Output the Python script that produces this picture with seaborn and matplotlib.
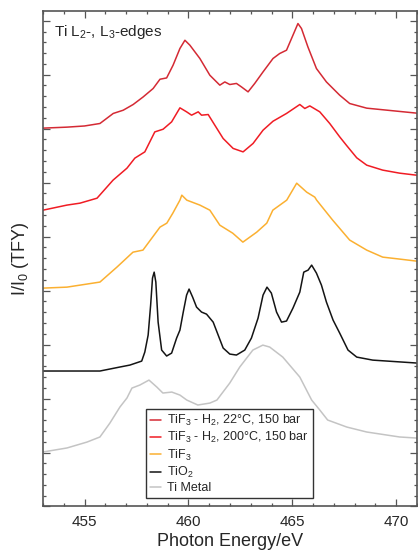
import matplotlib
matplotlib.use("Agg")
import matplotlib.pyplot as plt
import seaborn as sns
import pandas as pd
from matplotlib.ticker import MultipleLocator

# ---- data ----
e_22c = [453.00, 454.14, 455.00, 455.74, 456.38, 456.86, 457.34, 457.82, 458.30, 458.63, 458.95, 459.26,
         459.59, 459.83, 460.07, 460.55, 461.03, 461.51, 461.75, 461.99, 462.31, 462.55, 462.87, 463.19,
         463.59, 464.07, 464.39, 464.72, 465.03, 465.27, 465.44, 465.75, 466.16, 466.64, 467.28, 467.76,
         468.58, 470.98]
i_22c = [35.05, 35.14, 35.25, 35.48, 36.41, 36.71, 37.24, 37.94, 38.72, 39.58, 39.70, 40.88,
         42.43, 43.19, 42.73, 41.50, 39.95, 39.03, 39.33, 39.09, 39.19, 38.87, 38.41, 39.19,
         40.26, 41.50, 41.96, 42.27, 43.66, 44.74, 44.28, 42.57, 40.57, 39.33, 38.10, 37.33,
         36.90, 36.44]

e_200c = [453.00, 454.15, 454.78, 455.60, 456.37, 457.04, 457.42, 457.90, 458.38, 458.78, 459.19, 459.59,
          459.91, 460.15, 460.47, 460.63, 460.95, 461.27, 461.67, 462.15, 462.63, 463.11, 463.59, 464.07,
          464.72, 465.36, 465.60, 465.84, 466.32, 466.80, 467.28, 467.60, 468.10, 468.58, 469.35, 470.16,
          470.98]
i_200c = [27.45, 27.92, 28.10, 28.56, 30.23, 31.34, 32.27, 32.85, 34.70, 34.95, 35.63, 36.93,
          36.56, 36.25, 36.56, 36.25, 36.31, 35.32, 34.09, 33.17, 32.85, 33.63, 34.86, 35.69,
          36.41, 37.24, 36.87, 37.11, 36.56, 35.48, 34.24, 33.47, 32.30, 31.62, 31.16, 30.88,
          30.69]

e_tif3 = [453.00, 454.15, 455.74, 456.56, 457.33, 457.81, 458.63, 458.96, 459.25, 459.59, 459.68, 459.92,
          460.55, 461.03, 461.51, 462.13, 462.62, 463.29, 463.77, 464.06, 464.73, 465.21, 465.69, 466.08,
          466.17, 466.94, 467.76, 468.58, 469.35, 470.16, 470.98]
i_tif3 = [20.23, 20.32, 20.79, 22.18, 23.56, 23.75, 25.88, 26.25, 27.18, 28.38, 28.84, 28.38,
          27.92, 27.45, 26.06, 25.32, 24.49, 25.42, 26.25, 27.45, 28.38, 29.95, 29.12, 28.66,
          28.38, 26.53, 24.68, 23.75, 23.10, 22.92, 22.73]

e_tio2 = [453.00, 455.74, 456.70, 457.18, 457.75, 457.90, 458.06, 458.18, 458.27, 458.35, 458.43, 458.54,
          458.71, 458.95, 459.19, 459.43, 459.59, 459.75, 459.91, 460.03, 460.20, 460.39, 460.63, 460.87,
          461.19, 461.43, 461.67, 461.99, 462.31, 462.71, 463.03, 463.35, 463.59, 463.78, 463.99, 464.24,
          464.48, 464.72, 465.03, 465.36, 465.55, 465.76, 465.93, 466.16, 466.40, 466.64, 466.96, 467.28,
          467.68, 468.10, 468.87, 470.98]
i_tio2 = [12.55, 12.55, 12.92, 13.10, 13.47, 14.31, 15.88, 18.66, 21.16, 21.71, 20.79, 17.08,
          14.49, 13.94, 14.21, 15.60, 16.34, 18.01, 19.58, 20.14, 19.40, 18.47, 18.01, 17.82,
          17.08, 15.88, 14.68, 14.12, 14.03, 14.49, 15.60, 17.45, 19.58, 20.32, 19.77, 18.01,
          17.08, 17.18, 18.38, 19.86, 21.71, 21.90, 22.36, 21.62, 20.51, 18.94, 17.27, 16.06,
          14.49, 13.84, 13.56, 13.29]

e_ti = [453.00, 454.15, 455.12, 455.74, 456.22, 456.70, 457.04, 457.28, 457.66, 458.10, 458.48, 458.77,
        459.20, 459.59, 459.92, 460.45, 461.03, 461.37, 461.99, 462.47, 463.10, 463.58, 463.91, 464.54,
        465.36, 465.93, 466.32, 466.70, 467.62, 468.58, 470.16, 470.98]
i_ti = [5.05, 5.42, 5.97, 6.44, 7.73, 9.21, 10.05, 10.97, 11.25, 11.71, 11.06, 10.51,
        10.60, 10.32, 9.86, 9.40, 9.58, 9.86, 11.44, 12.92, 14.49, 14.95, 14.77, 13.84,
        11.99, 9.86, 8.94, 8.01, 7.36, 6.90, 6.44, 6.34]

labels = ["TiF$_\\mathregular{3}$ - H$_\\mathregular{2}$, 22°C, 150 bar",
          "TiF$_\\mathregular{3}$ - H$_\\mathregular{2}$, 200°C, 150 bar",
          "TiF$_\\mathregular{3}$",
          "TiO$_\\mathregular{2}$",
          "Ti Metal"]
colors = ["#d42a34", "#f01c24", "#fbb031", "#141414", "#c4c4c4"]
series = [(e_22c, i_22c), (e_200c, i_200c), (e_tif3, i_tif3), (e_tio2, i_tio2), (e_ti, i_ti)]

# ---- plot ----
sns.set_style("white")
plt.rcParams["font.family"] = ["Liberation Sans", "DejaVu Sans"]
plt.rcParams["mathtext.fontset"] = "custom"
plt.rcParams["mathtext.rm"] = "Liberation Sans"
plt.rcParams["mathtext.it"] = "Liberation Sans:italic"
plt.rcParams["mathtext.bf"] = "Liberation Sans:bold"

fig = plt.figure(figsize=(4.18, 5.53), dpi=100)
ax = fig.add_axes([0.1029, 0.0841, 0.8947, 0.896])

for (xs, ys), lab, col in zip(series, labels, colors):
    df = pd.DataFrame({"E": xs, "I": ys})
    sns.lineplot(data=df, x="E", y="I", ax=ax, color=col, lw=1.1, label=lab, sort=False)

ax.set_xlim(453, 471)
ax.set_ylim(0, 45.9)
ax.xaxis.set_major_locator(MultipleLocator(5))
ax.xaxis.set_minor_locator(MultipleLocator(1))
ax.yaxis.set_major_locator(MultipleLocator(5))
ax.yaxis.set_minor_locator(MultipleLocator(1))
ax.tick_params(which="both", direction="in", top=True, right=True, bottom=True, left=True,
               color="#555555", width=0.9)
ax.tick_params(which="major", length=5)
ax.tick_params(which="minor", length=2.5)
ax.tick_params(axis="x", labelsize=11, pad=6)
ax.set_yticklabels([])
for s in ax.spines.values():
    s.set_color("#555555")
    s.set_linewidth(1.2)

ax.set_xlabel("Photon Energy/eV", fontsize=13, labelpad=3)
ax.set_ylabel("I/I$_\\mathregular{0}$ (TFY)", fontsize=13, labelpad=5)

ax.text(0.03, 0.975, "Ti L$_\\mathregular{2}$-, L$_\\mathregular{3}$-edges", transform=ax.transAxes,
        fontsize=11, ha="left", va="top")

leg = ax.legend(loc="lower left", bbox_to_anchor=(0.275, 0.017), fontsize=9, handlelength=0.9,
                handletextpad=0.5, labelspacing=0.18, borderpad=0.3, borderaxespad=0,
                fancybox=False, frameon=True)
leg.get_frame().set_edgecolor("black")
leg.get_frame().set_linewidth(1.0)

fig.savefig("out.png", dpi=100)
